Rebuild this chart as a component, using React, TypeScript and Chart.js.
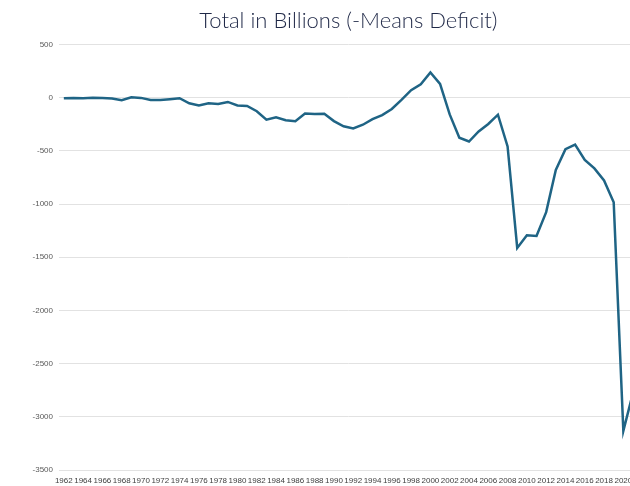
import React, { useEffect, useRef } from "react";
import { Chart, registerables } from "chart.js";

Chart.register(...registerables);

const years: string[] = [
  "1962", "1963", "1964", "1965", "1966", "1967", "1968", "1969", "1970", "1971",
  "1972", "1973", "1974", "1975", "1976", "1977", "1978", "1979", "1980", "1981",
  "1982", "1983", "1984", "1985", "1986", "1987", "1988", "1989", "1990", "1991",
  "1992", "1993", "1994", "1995", "1996", "1997", "1998", "1999", "2000", "2001",
  "2002", "2003", "2004", "2005", "2006", "2007", "2008", "2009", "2010", "2011",
  "2012", "2013", "2014", "2015", "2016", "2017", "2018", "2019", "2020", "2021",
];

const totals: number[] = [
  -7.1, -4.8, -5.9, -1.4, -3.7, -8.6, -25.2, 3.2, -2.8, -23.0,
  -23.4, -14.9, -6.1, -53.2, -73.7, -53.7, -59.2, -40.7, -73.8, -79.0,
  -128.0, -207.8, -185.4, -212.3, -221.2, -149.7, -155.2, -152.6, -221.0, -269.2,
  -290.3, -255.1, -203.2, -164.0, -107.4, -21.9, 69.3, 125.6, 236.2, 128.2,
  -157.8, -377.6, -412.7, -318.3, -248.2, -160.7, -458.6, -1412.7, -1294.4, -1299.6,
  -1076.6, -679.8, -484.6, -442.0, -584.7, -665.4, -779.1, -983.6, -3132.5, -2775.3,
];

const yMin = -3500;
const yMax = 500;
const yStep = 500;

const titleText = "Total in Billions (-Means Deficit)";

export default function App() {
  const canvasRef = useRef<HTMLCanvasElement | null>(null);

  useEffect(() => {
    document.documentElement.style.overflow = "hidden";
    document.body.style.overflow = "hidden";
    document.body.style.margin = "0";
    const canvas = canvasRef.current;
    if (!canvas) return;
    const chart = new Chart(canvas, {
      type: "line",
      data: {
        labels: years,
        datasets: [
          {
            label: "Total",
            data: totals,
            borderColor: "#1f6485",
            backgroundColor: "#1f6485",
            borderWidth: 2.5,
            pointRadius: 0,
            tension: 0,
            fill: false,
          },
        ],
      },
      options: {
        responsive: false,
        animation: false,
        layout: { padding: { top: 0, right: 0, bottom: 0, left: 0 } },
        plugins: {
          legend: { display: false },
          tooltip: { enabled: false },
          title: {
            display: true,
            text: titleText,
            fullSize: false,
            color: "#1f2847",
            font: { family: "Lato, 'Open Sans', sans-serif", size: 22, weight: "300" as any },
            padding: { top: 8, bottom: 10 },
          },
        },
        scales: {
          x: {
            offset: true,
            grid: { display: false, drawTicks: false },
            border: { display: false },
            ticks: {
              autoSkip: false,
              maxRotation: 0,
              minRotation: 0,
              padding: 6,
              color: "#404040",
              font: { family: "'Liberation Sans', Arial, sans-serif", size: 8 },
              callback: function (this: any, value: any) {
                const l = String(this.getLabelForValue(value));
                return Number(l) % 2 === 0 ? l : "";
              },
            },
            afterFit: (scale: any) => {
              scale.height = 16;
            },
          },
          y: {
            min: yMin,
            max: yMax,
            grid: { color: "#e2e2e2", lineWidth: 1, drawTicks: false },
            border: { display: false },
            ticks: {
              stepSize: yStep,
              padding: 6,
              color: "#595959",
              font: { family: "'Liberation Sans', Arial, sans-serif", size: 8 },
              callback: (v: any) => String(v),
            },
            afterFit: (scale: any) => {
              scale.width = 59;
            },
          },
        },
      },
    });
    return () => chart.destroy();
  }, []);

  return (
    <div style={{ position: "fixed", left: 0, top: 0, width: 639, height: 486, background: "#fff" }}>
      <canvas ref={canvasRef} width={639} height={486} />
    </div>
  );
}
